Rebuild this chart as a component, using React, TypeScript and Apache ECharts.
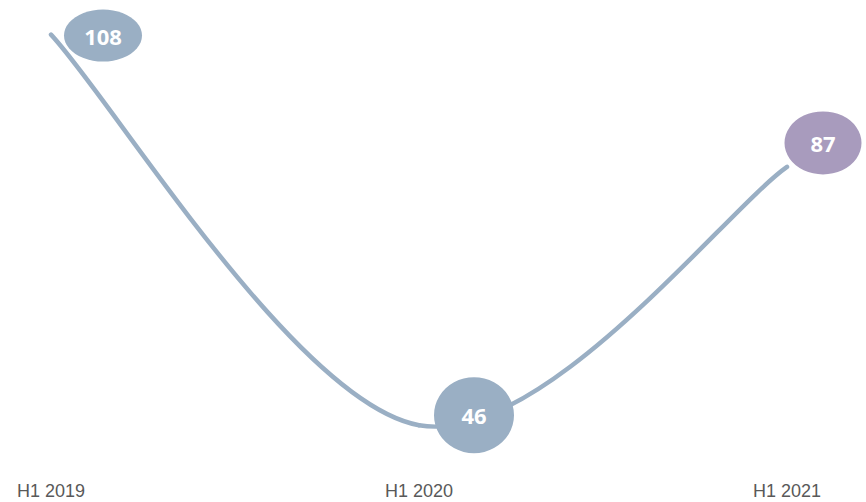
import React, { useEffect, useRef } from "react";
import * as echarts from "echarts";

const categories = ["H1 2019", "H1 2020", "H1 2021"];
const values = [108, 46, 87];
const bubbleColors = ["#9aafc4", "#9aafc4", "#a89bbd"];
const bubbleSizes = [[78, 52], [80, 76], [77, 63]];
const bubbleOffsets = [[52, 1], [55, -10], [36, -24]];

export default function App() {
  const ref = useRef<HTMLDivElement>(null);
  useEffect(() => {
    document.body.style.margin = "0";
    const chart = echarts.init(ref.current!, null, { renderer: "svg" });
    const renderSegment = (params: any, api: any) => {
      const i = params.dataIndex;
      const n = values.length;
      if (i >= n - 1) return null;
      const p = values.map((v, j) => api.coord([j, v]));
      const p0 = p[i];
      const p1 = p[i + 1];
      const pPrev = i > 0 ? p[i - 1] : p0;
      const pNext = i + 2 < n ? p[i + 2] : p1;
      const c1 = [p0[0] + (p1[0] - pPrev[0]) / 6, p0[1] + (p1[1] - pPrev[1]) / 6];
      const c2 = [p1[0] - (pNext[0] - p0[0]) / 6, p1[1] - (pNext[1] - p0[1]) / 6];
      return {
        type: "bezierCurve",
        shape: {
          x1: p0[0], y1: p0[1],
          cpx1: c1[0], cpy1: c1[1],
          cpx2: c2[0], cpy2: c2[1],
          x2: p1[0], y2: p1[1],
        },
        style: { stroke: "#9aafc4", lineWidth: 4.5, fill: "none", lineCap: "round" },
      };
    };
    chart.setOption({
      animation: false,
      grid: { left: 51, right: 79, top: 22, bottom: 39 },
      xAxis: {
        type: "category",
        data: categories,
        boundaryGap: false,
        axisLine: { show: false },
        axisTick: { show: false },
        axisLabel: {
          color: "#595959",
          fontSize: 18,
          fontFamily: "Liberation Sans Narrow, Arial Narrow, Liberation Sans, sans-serif",
          margin: 19,
        },
      },
      yAxis: {
        type: "value",
        min: 40,
        max: 110,
        show: false,
        splitLine: { show: false },
      },
      series: [
        {
          type: "custom",
          renderItem: renderSegment,
          data: values.map((v, i) => [i, v]),
          z: 1,
        },
        {
          type: "scatter",
          z: 3,
          data: values.map((v, i) => ({
            value: [categories[i], v],
            symbol: "circle",
            symbolSize: bubbleSizes[i],
            symbolOffset: bubbleOffsets[i],
            itemStyle: { color: bubbleColors[i], opacity: 1 },
            label: {
              show: true,
              position: "inside",
              formatter: String(v),
              color: "#ffffff",
              fontSize: 22,
              fontWeight: "bold",
              fontFamily: "Open Sans, sans-serif",
            },
          })),
        },
      ],
    });
    return () => chart.dispose();
  }, []);
  return <div ref={ref} style={{ width: 866, height: 502 }} />;
}
